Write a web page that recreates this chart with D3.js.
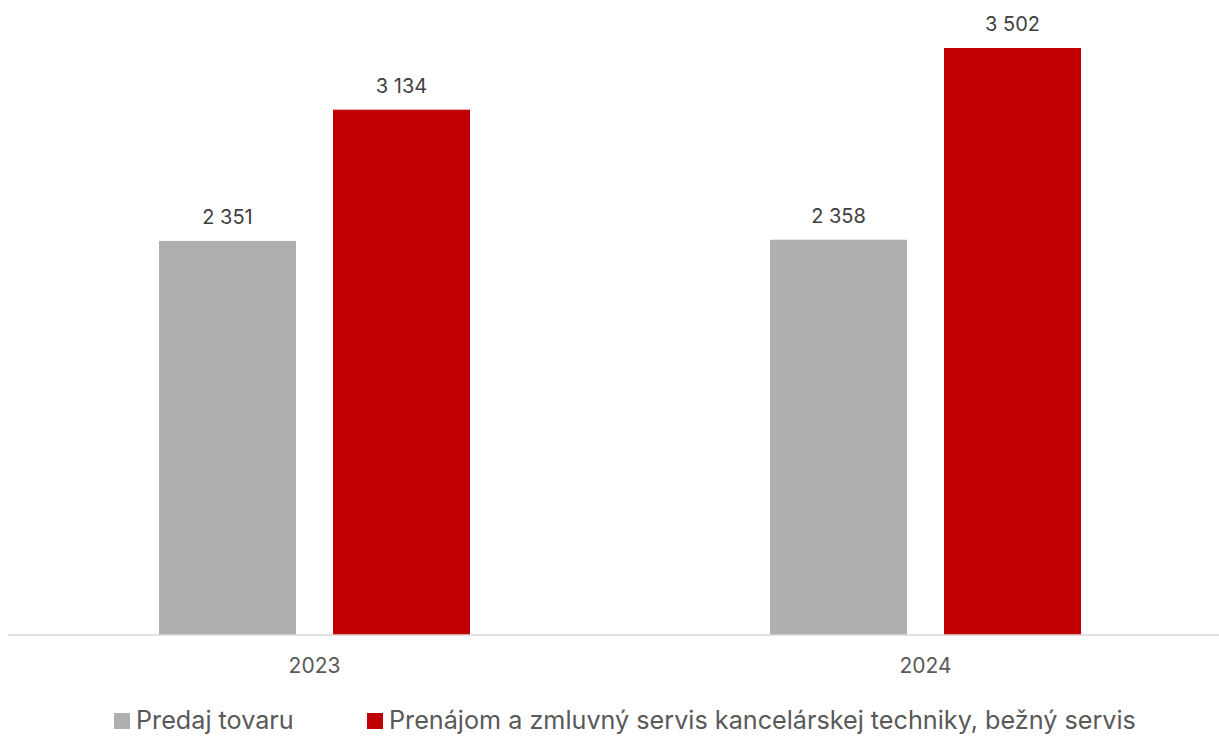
<!DOCTYPE html>
<html><head><meta charset="utf-8">
<script src="https://cdn.jsdelivr.net/npm/d3@7"></script>
<style>body{margin:0;background:#fff}svg{display:block}text{font-family:Inter,"Open Sans",sans-serif}</style>
</head><body>
<script>
const categories = ["2023", "2024"];
const seriesNames = ["Predaj tovaru", "Prenájom a zmluvný servis kancelárskej techniky, bežný servis"];
const predajTovaru = [2351, 2358];
const prenajom = [3134, 3502];
const seriesColors = ["#afafaf", "#c00000"];
const seriesValues = [predajTovaru, prenajom];

const W = 1219, H = 736;
const svg = d3.select("body").append("svg").attr("width", W).attr("height", H);

const x0 = d3.scaleBand().domain(categories).range([9, 1231]).padding(0);
const groupW = 311;
const x1 = d3.scaleBand().domain(d3.range(seriesNames.length)).range([0, groupW]).paddingInner(37/174).paddingOuter(0);
const y = d3.scaleLinear().domain([0, 4000]).range([635, 635 - 4000 * 0.16762]);

const fmt = v => d3.format(",")(v).replace(/,/g, " ");

categories.forEach((c, ci) => {
  const gx = x0(c) + (x0.bandwidth() - groupW) / 2;
  seriesValues.forEach((vals, si) => {
    const v = vals[ci];
    svg.append("rect")
      .attr("x", gx + x1(si)).attr("width", x1.bandwidth())
      .attr("y", y(v)).attr("height", y(0) - y(v))
      .attr("fill", seriesColors[si]);
    svg.append("text")
      .attr("x", gx + x1(si) + x1.bandwidth() / 2)
      .attr("y", y(v) - 17)
      .attr("text-anchor", "middle")
      .attr("font-size", 20).attr("fill", "#404040")
      .text(fmt(v));
  });
});

// axis
svg.append("line").attr("x1", 8).attr("x2", W).attr("y1", 635).attr("y2", 635)
  .attr("stroke", "#d9d9d9").attr("stroke-width", 1.5);
const xAxis = d3.axisBottom(x0).tickSize(0).tickPadding(20);
const ax = svg.append("g").attr("transform", "translate(0,635)").call(xAxis);
ax.select(".domain").remove();
ax.selectAll("text").attr("font-size", 21).attr("fill", "#595959")
  .attr("font-family", "Inter, 'Open Sans', sans-serif")
  .attr("dy", null).attr("y", 38);

// legend
const legendX = [114, 367];
const leg = svg.append("g");
seriesNames.forEach((n, i) => {
  leg.append("rect").attr("x", legendX[i]).attr("y", 713).attr("width", 16).attr("height", 16).attr("fill", seriesColors[i]);
  leg.append("text").attr("x", legendX[i] + 22).attr("y", 729)
    .attr("font-size", 25.2).attr("fill", "#595959").text(n);
});
</script>
</body></html>
